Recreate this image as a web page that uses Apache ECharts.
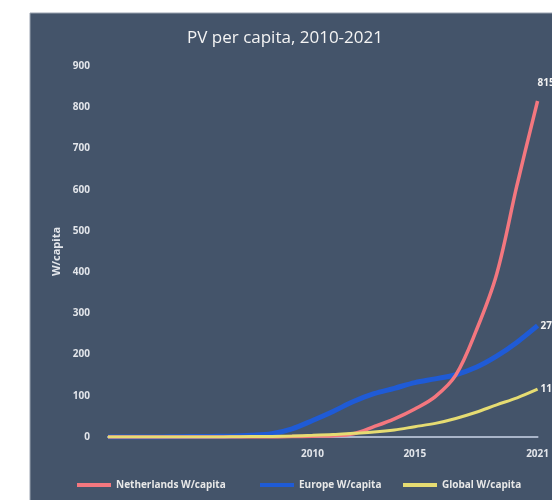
<!DOCTYPE html>
<html>
<head>
<meta charset="utf-8">
<script src="https://cdn.jsdelivr.net/npm/echarts@6/dist/echarts.min.js"></script>
<style>html,body{margin:0;padding:0;background:#fff}#c{width:552px;height:500px}</style>
</head>
<body>
<div id="c"></div>
<script>
const years = ['2000','2001','2002','2003','2004','2005','2006','2007','2008','2009','2010','2011','2012','2013','2014','2015','2016','2017','2018','2019','2020','2021'];
const shownYears = ['2010','2015','2021'];
const netherlands = [0,0,0,0,0,0,0,0,0,1,2,3,8,25,44,68,98,150,258,395,612,815];
const europe = [0,0,0,0.5,1,1.5,2,4,8,20,40,62,86,105,118,132,141,151,169,196,230,270];
const globalPv = [0,0,0,0,0,0,0.5,1,1.5,2.5,4,6,9,12,17,25,33,45,60,78,95,116];
const yTicks = [0,100,200,300,400,500,600,700,800,900];
const seriesNames = ['Netherlands W/capita','Europe W/capita','Global W/capita'];

const chart = echarts.init(document.getElementById('c'));
const font = 'Open Sans';
function legendFor(name, left) {
  return {
    data: [name], left: left, top: 480, icon: 'rect', itemWidth: 34, itemHeight: 4, itemGap: 0,
    padding: 0,
    textStyle: { color: '#e8e8e8', fontSize: 10, fontWeight: 'bold', fontFamily: font }
  };
}
function lineSeries(name, data, color, width, z, endLabel) {
  return {
    name: name, type: 'line', data: data, smooth: 0.35, symbol: 'none',
    color: color, lineStyle: { width: width, color: color }, z: z,
    endLabel: Object.assign({
      show: true, color: '#f2f2f2', fontSize: 10, fontWeight: 'bold', fontFamily: font,
      formatter: p => String(Math.round(p.value))
    }, endLabel)
  };
}
chart.setOption({
  backgroundColor: '#ffffff',
  animation: false,
  graphic: [{
    type: 'rect', z: -10, silent: true,
    shape: { x: 30, y: 13, width: 530, height: 495 },
    style: { fill: '#44546A', stroke: '#9aa3b0', lineWidth: 1 }
  }],
  title: {
    text: 'PV per capita, 2010-2021', left: 280, top: 25, textAlign: 'center',
    textStyle: { color: '#f4f4f4', fontSize: 17, fontWeight: 'normal', fontFamily: font }
  },
  legend: [
    legendFor(seriesNames[0], 77),
    legendFor(seriesNames[1], 260),
    legendFor(seriesNames[2], 403)
  ],
  grid: { left: 108, right: 5, top: 66, bottom: 63, containLabel: false },
  xAxis: {
    type: 'category', data: years, boundaryGap: false,
    axisLine: { show: true, lineStyle: { color: '#a9b5c9', width: 2 } },
    axisTick: { show: false },
    axisLabel: {
      interval: (i, v) => shownYears.includes(v),
      color: '#e2e5ea', fontSize: 10, fontWeight: 'bold', fontFamily: font, margin: 12
    },
    splitLine: { show: false }
  },
  yAxis: {
    type: 'value', min: yTicks[0], max: yTicks[yTicks.length - 1], interval: 100,
    name: 'W/capita', nameLocation: 'middle', nameGap: 44,
    nameTextStyle: { color: '#e2e5ea', fontSize: 11, fontWeight: 'bold', fontFamily: font },
    axisLine: { show: false }, axisTick: { show: false },
    axisLabel: { color: '#e2e5ea', fontSize: 10, fontWeight: 'bold', fontFamily: font, margin: 18 },
    splitLine: { show: false }
  },
  series: [
    lineSeries(seriesNames[0], netherlands, '#f4777f', 3.5, 3, { distance: 0, offset: [0, -18] }),
    lineSeries(seriesNames[1], europe, '#1f5bd6', 5, 2, { distance: 3 }),
    lineSeries(seriesNames[2], globalPv, '#e6dc72', 3, 4, { distance: 3 })
  ]
});
</script>
</body>
</html>
